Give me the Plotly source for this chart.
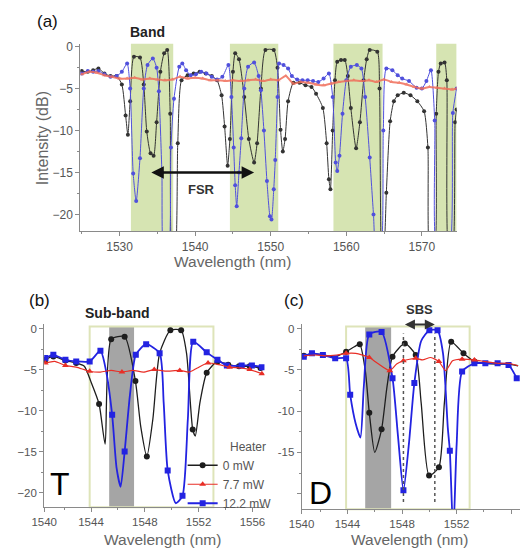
import plotly.graph_objects as go

W, H = 520, 552
FONT = "Liberation Sans, Arial, sans-serif"

# ---------------- data ----------------
# panel (a): (wavelength nm, intensity dB)
a_black = [(1525.0,-2.9),(1525.8,-3.0),(1526.5,-2.8),(1527.2,-2.6),(1528.0,-3.2),(1528.8,-3.5),
           (1529.6,-3.5),(1530.3,-4.5),(1530.8,-8.2),(1531.1,-10.5),(1531.4,-6.5),(1531.9,-1.2),
           (1532.7,-1.3),(1533.2,-4.5),(1533.6,-10.1),(1534.1,-12.7),(1534.5,-13.0),(1534.9,-9.0),
           (1535.4,-3.0),(1535.9,-0.8),(1536.3,-0.4),(1536.7,-8.0),(1537.0,-25),(1537.3,-25),
           (1537.7,-11.5),(1538.2,-4.0),(1539.0,-3.4),(1539.8,-3.2),(1540.6,-3.0),(1541.4,-3.2),
           (1542.2,-3.5),(1542.9,-4.0),(1543.5,-5.8),(1543.9,-9.5),(1544.3,-14.2),(1544.6,-11.0),
           (1545.0,-3.0),(1545.3,-0.8),(1545.8,-1.5),(1546.5,-6.0),(1547.1,-11.0),(1547.8,-13.8),
           (1548.2,-11.5),(1548.7,-5.0),(1549.3,-0.4),(1550.4,-0.4),(1550.9,-2.5),(1551.3,-9.9),
           (1551.6,-12.5),(1551.9,-11.0),(1552.3,-6.5),(1553.0,-4.3),(1553.8,-4.3),(1554.6,-4.6),
           (1555.4,-4.8),(1556.0,-5.6),(1556.9,-7.3),(1557.4,-11.5),(1557.7,-15.8),(1557.9,-17.0),
           (1558.2,-10.0),(1558.5,-4.0),(1558.8,-1.8),(1559.3,-1.6),(1559.8,-1.6),(1560.2,-3.5),
           (1560.6,-7.3),(1561.3,-12.1),(1561.8,-9.0),(1562.3,-4.0),(1562.7,-1.5),(1563.1,-0.4),
           (1564.1,-0.6),(1564.4,-5.0),(1564.7,-25),(1565.0,-24),(1565.3,-17.4),(1565.8,-8.9),
           (1566.3,-6.5),(1566.8,-5.8),(1567.6,-5.5),(1568.5,-5.8),(1569.4,-6.5),(1570.3,-7.7),
           (1570.8,-12.0),(1571.1,-25),(1571.6,-25),(1571.9,-8.0),(1572.2,-3.0),(1572.5,-2.0),
           (1573.0,-1.9),(1573.3,-4.0),(1573.6,-25),(1574.0,-25),(1574.4,-9.0),(1574.6,-7.5)]

a_blue = [(1525.0,-3.2),(1525.8,-2.9),(1526.5,-3.0),(1527.2,-2.9),(1528.0,-3.3),(1528.8,-3.6),
          (1529.6,-3.5),(1530.3,-3.0),(1531.0,-2.0),(1531.4,-5.0),(1531.8,-15.1),(1532.2,-18.4),
          (1532.7,-13.3),(1533.2,-5.0),(1533.7,-2.2),(1534.4,-1.4),(1534.9,-2.5),(1535.2,-5.3),
          (1535.6,-15.0),(1535.9,-25),(1536.4,-25),(1536.8,-12.0),(1537.2,-6.2),(1537.9,-2.4),
          (1538.3,-2.0),(1538.8,-2.8),(1539.4,-3.4),(1540.1,-3.3),(1540.8,-3.0),(1541.5,-3.2),
          (1542.2,-3.6),(1542.9,-3.9),(1543.6,-3.6),(1544.4,-2.2),(1544.8,-6.0),(1545.1,-12.0),
          (1545.3,-16.5),(1545.5,-19.0),(1545.8,-15.0),(1546.1,-10.9),(1546.5,-5.0),(1547.0,-2.4),
          (1547.8,-1.9),(1548.4,-3.5),(1548.7,-5.2),(1549.1,-10.0),(1549.5,-16.0),(1549.9,-20.2),
          (1550.1,-20.6),(1550.4,-17.0),(1550.6,-13.5),(1550.9,-6.0),(1551.1,-2.0),(1551.7,-2.2),
          (1552.3,-2.6),(1552.8,-3.5),(1553.5,-3.9),(1554.2,-4.0),(1554.9,-4.0),(1555.6,-4.1),
          (1556.3,-4.2),(1557.0,-3.8),(1557.7,-3.2),(1558.2,-6.0),(1558.6,-13.8),(1558.8,-14.8),
          (1559.1,-13.0),(1559.5,-8.0),(1560.0,-4.0),(1560.6,-2.4),(1561.4,-2.2),(1562.0,-2.6),
          (1562.5,-6.0),(1563.1,-13.2),(1563.6,-20.0),(1564.0,-25),(1564.5,-25),(1564.9,-10.0),
          (1565.3,-2.6),(1566.1,-2.8),(1566.8,-3.4),(1567.4,-3.8),(1568.3,-4.1),(1569.3,-4.9),
          (1570.0,-5.0),(1570.6,-4.1),(1571.2,-2.8),(1571.7,-8.8),(1572.1,-25),(1573.5,-25),
          (1574.1,-7.9),(1574.6,-5.0)]

a_red = [(1525,-3.3),(1526,-3.0),(1527,-3.1),(1528,-3.4),(1529,-3.6),(1530,-3.8),(1531,-3.8),
         (1532,-3.7),(1533,-3.9),(1534,-3.8),(1535,-3.9),(1536,-4.0),(1537,-3.9),(1538,-3.6),
         (1539,-3.8),(1540,-3.7),(1541,-3.8),(1542,-4.0),(1543,-4.0),(1544,-4.1),(1545,-4.0),
         (1546,-4.1),(1547,-4.0),(1548,-3.9),(1549,-4.1),(1550,-3.9),(1551,-4.0),(1552,-3.5),
         (1553,-4.4),(1554,-4.2),(1555,-4.3),(1556,-4.5),(1557,-4.6),(1558,-4.4),(1559,-4.2),
         (1560,-4.1),(1561,-4.0),(1562,-4.1),(1563,-4.0),(1564,-4.2),(1565,-3.9),(1566,-4.2),
         (1567,-4.3),(1568,-4.5),(1569,-4.8),(1570,-5.0),(1571,-4.8),(1572,-4.9),(1573,-5.0),
         (1574,-5.1),(1574.6,-5.0)]

a_bands = [(1531.5, 1537.1), (1544.6, 1551.0), (1558.3, 1564.8), (1571.9, 1574.6)]
fsr_span = (1534.0, 1547.8, -15.0)

# panel (b): (wavelength, dB, marker shown)
b_black = [(1540.6,-3.8,1),(1541.2,-3.4,1),(1542.1,-3.9,1),(1542.9,-4.2,1),(1543.5,-4.6,0),
           (1544.0,-6.5,0),(1544.6,-9.2,1),(1545.05,-14.1,0),(1545.5,-1.3,1),(1546.5,-1.0,1),
           (1547.3,-6.4,1),(1547.7,-12.0,0),(1548.15,-15.6,1),(1548.6,-11.0,0),(1549.1,-3.0,0),
           (1549.9,-0.2,1),(1550.7,-0.2,1),(1551.1,-3.0,0),(1551.56,-12.3,1),(1551.75,-13.1,0),
           (1552.1,-9.0,0),(1552.6,-5.4,1),(1553.4,-4.0,1),(1554.2,-4.4,1),(1555.0,-4.6,1),
           (1555.8,-4.6,1),(1556.6,-4.8,1)]
b_red = [(1540.6,-4.2,1),(1541.3,-4.0,0),(1542.1,-4.5,1),(1542.9,-4.7,0),(1543.9,-5.2,1),
         (1544.7,-5.3,0),(1545.5,-5.1,0),(1546.3,-5.3,1),(1547.1,-5.1,0),(1547.9,-5.3,0),
         (1548.7,-5.0,1),(1549.5,-5.2,0),(1550.6,-5.1,1),(1551.3,-5.3,0),(1551.9,-4.8,0),
         (1552.7,-4.2,1),(1553.5,-4.4,0),(1554.3,-4.7,1),(1555.1,-4.8,0),(1555.8,-5.0,1),
         (1556.7,-5.5,1)]
b_blue = [(1540.6,-3.6,1),(1541.2,-3.2,1),(1542.1,-3.8,1),(1542.9,-4.0,1),(1543.9,-4.0,1),
          (1544.7,-2.7,1),(1545.1,-5.0,0),(1545.57,-10.5,1),(1545.9,-17.0,0),(1546.2,-19.3,0),
          (1546.5,-15.0,1),(1546.9,-8.0,0),(1547.33,-3.2,1),(1548.1,-1.9,1),(1549.1,-3.0,1),
          (1549.4,-9.0,0),(1549.7,-17.3,1),(1550.3,-21.3,0),(1550.8,-20.4,1),(1551.2,-11.0,0),
          (1551.6,-1.6,1),(1552.6,-2.9,1),(1553.4,-3.8,1),(1554.1,-4.5,1),(1555.2,-4.5,1),
          (1555.96,-4.5,1),(1556.7,-4.7,1)]
b_frame = (1543.9, 1553.1)
b_sub = (1545.35, 1547.2)

# panel (c)
c_black = [(1540.8,-3.3,1),(1541.4,-3.0,0),(1542.2,-3.2,0),(1543.1,-3.4,0),(1543.9,-2.8,1),
           (1544.5,-2.2,0),(1544.9,-1.9,1),(1545.3,-5.0,0),(1545.6,-10.2,1),(1546.0,-15.0,0),
           (1546.5,-12.2,1),(1546.9,-7.0,0),(1547.3,-3.4,1),(1548.2,-1.8,1),(1549.0,-3.2,1),
           (1549.4,-9.0,0),(1549.98,-17.8,1),(1550.7,-16.8,1),(1551.1,-9.0,0),(1551.6,-1.6,1),
           (1552.5,-3.0,1),(1553.3,-4.0,1),(1554.1,-4.2,0),(1555.0,-4.3,0),(1555.8,-4.3,0),
           (1556.5,-4.5,0)]
c_red = [(1540.8,-3.3,0),(1541.6,-3.2,0),(1542.4,-3.3,0),(1543.2,-3.2,0),(1543.9,-3.0,1),
         (1544.6,-3.0,0),(1545.6,-3.5,1),(1546.2,-4.2,0),(1547.1,-5.1,1),(1547.6,-4.3,0),
         (1548.1,-3.9,1),(1549.0,-3.6,1),(1549.5,-3.8,0),(1550.1,-3.5,0),(1550.7,-4.0,1),
         (1551.2,-5.1,0),(1551.7,-3.9,0),(1552.4,-3.7,1),(1553.3,-3.8,1),(1554.1,-4.0,0),
         (1555.0,-4.2,0),(1555.8,-4.2,0),(1556.5,-4.5,0)]
c_blue = [(1540.8,-3.4,1),(1541.4,-3.0,1),(1542.2,-3.2,1),(1543.1,-3.6,1),(1543.9,-3.6,1),
          (1544.2,-8.0,1),(1544.6,-11.5,0),(1544.95,-13.2,0),(1545.2,-7.0,0),(1545.6,-0.7,1),
          (1546.5,-0.4,1),(1547.3,-6.0,1),(1547.7,-13.0,0),(1548.1,-19.6,1),(1548.5,-14.0,0),
          (1548.9,-6.6,1),(1549.4,-1.5,0),(1550.0,-0.2,1),(1550.6,-0.2,1),(1551.0,-3.0,0),
          (1551.35,-12.0,0),(1551.5,-14.8,1),(1551.75,-25,0),(1552.0,-14.0,0),(1552.4,-5.2,1),
          (1553.3,-4.2,1),(1554.1,-4.2,1),(1555.0,-4.2,1),(1555.8,-4.4,1),(1556.4,-6.0,1)]
c_frame = (1543.9, 1552.95)
c_sub = (1545.3, 1547.2)
c_sbs = (1548.1, 1550.4)

heater_names = ["0 mW", "7.7 mW", "12.2 mW"]

# ---------------- figure ----------------
def px(x):
    return x / W

def py(y):
    return 1 - y / H

BLACK = "#1e1e1e"
RED = "rgb(232,46,38)"
BLUE = "rgb(35,35,225)"

fig = go.Figure()

def add_a(series, color, symbol, lw, ms, opacity=1.0):
    fig.add_trace(go.Scatter(
        x=[p[0] for p in series], y=[p[1] for p in series], mode="lines+markers",
        line=dict(color=color, width=lw, shape="spline", smoothing=0.6),
        marker=dict(symbol=symbol, size=ms, color=color), opacity=opacity,
        xaxis="x", yaxis="y", showlegend=False, hoverinfo="skip"))

add_a(a_black, "#333333", "circle", 1.0, 4)
add_a(a_blue, "rgb(80,80,220)", "circle", 1.0, 4)
add_a(a_red, "rgb(240,110,90)", "triangle-up", 2.0, 4, 0.85)

def add_bc(series, color, symbol, lw, ms, xa, ya):
    fig.add_trace(go.Scatter(
        x=[p[0] for p in series], y=[p[1] for p in series], mode="lines",
        line=dict(color=color, width=lw, shape="spline", smoothing=0.6),
        xaxis=xa, yaxis=ya, showlegend=False, hoverinfo="skip"))
    fig.add_trace(go.Scatter(
        x=[p[0] for p in series if p[2]], y=[p[1] for p in series if p[2]], mode="markers",
        marker=dict(symbol=symbol, size=ms, color=color),
        xaxis=xa, yaxis=ya, showlegend=False, hoverinfo="skip"))

for xa, ya, bl, rd, bu in [("x2", "y2", b_black, b_red, b_blue), ("x3", "y3", c_black, c_red, c_blue)]:
    add_bc(bl, BLACK, "circle", 1.3, 6, xa, ya)
    add_bc(bu, BLUE, "square", 1.8, 6, xa, ya)
    add_bc(rd, RED, "triangle-up", 1.2, 6, xa, ya)

# legend entries (styles only)
for name, color, sym, lw in zip(heater_names, [BLACK, RED, BLUE], ["circle", "triangle-up", "square"], [1.3, 1.2, 1.8]):
    fig.add_trace(go.Scatter(x=[None], y=[None], mode="lines+markers", name=name,
                             line=dict(color=color, width=lw), marker=dict(symbol=sym, size=6, color=color),
                             xaxis="x2", yaxis="y2", showlegend=True))

shapes = []
for x0, x1 in a_bands:
    shapes.append(dict(type="rect", xref="x", yref="y domain", x0=x0, x1=x1, y0=0, y1=1,
                       fillcolor="rgb(214,228,178)", line=dict(width=0), layer="below"))
for xr, yr, fr, sb in [("x2", "y2", b_frame, b_sub), ("x3", "y3", c_frame, c_sub)]:
    shapes.append(dict(type="rect", xref=xr, yref=yr + " domain", x0=sb[0], x1=sb[1], y0=0, y1=0.985,
                       fillcolor="rgb(165,165,165)", line=dict(width=0), layer="below"))
    shapes.append(dict(type="rect", xref=xr, yref=yr + " domain", x0=fr[0], x1=fr[1], y0=0, y1=0.985,
                       fillcolor="rgba(0,0,0,0)", line=dict(color="rgb(222,228,185)", width=2), layer="below"))
for xv in c_sbs:
    shapes.append(dict(type="line", xref="x3", yref="y3", x0=xv, x1=xv, y0=-21.0, y1=-0.6,
                       line=dict(color="#555", width=1.5, dash="dot")))

ann = []
def txt(t, x, y, size, color="#111", bold=False, angle=0):
    ann.append(dict(text=("<b>%s</b>" % t) if bold else t, x=px(x), y=py(y), xref="paper", yref="paper",
                    showarrow=False, font=dict(size=size, color=color, family=FONT), textangle=angle,
                    xanchor="center", yanchor="middle"))

txt("(a)", 35, 18, 17)
txt("Band", 138, 28, 14, "#222", True)
txt("FSR", 193, 187, 13, "#333", True)
txt("Intensity (dB)", 30, 135, 16, "#666", angle=-90)
txt("Wavelength (nm)", 225, 259, 15.5, "#666")
txt("(b)", 27, 299, 17)
txt("Sub-band", 107, 311, 14, "#222", True)
txt("(c)", 288, 299, 17)
txt("SBS", 417, 308, 13, "#333", True)
txt("T", 48, 484, 32, "#000")
txt("D", 315, 493, 32, "#000")
txt("Wavelength (nm)", 153, 539, 15.5, "#666")
txt("Wavelength (nm)", 407, 539, 15.5, "#666")
txt("Heater", 241, 446, 12, "#555")

ann.append(dict(x=fsr_span[1], y=fsr_span[2], ax=fsr_span[0], ay=fsr_span[2], xref="x", yref="y",
                axref="x", ayref="y", showarrow=True, arrowhead=2, arrowside="end+start",
                arrowsize=1, arrowwidth=2.5, arrowcolor="#111", text=""))
ann.append(dict(x=c_sbs[1], y=0.5, ax=c_sbs[0], ay=0.5, xref="x3", yref="y3",
                axref="x3", ayref="y3", showarrow=True, arrowhead=2, arrowside="end+start",
                arrowsize=1, arrowwidth=2, arrowcolor="#333", text=""))

axis_common = dict(showline=True, linecolor="#8a8a8a", linewidth=1, ticks="outside", ticklen=4,
                   tickcolor="#8a8a8a", showgrid=False, zeroline=False, mirror=False)
tf_a = dict(size=12, color="#555", family=FONT)
tf_b = dict(size=11.5, color="#555", family=FONT)

b_range = [1540.52, 1556.9]
c_range = [1540.64, 1556.64]

fig.update_layout(
    width=W, height=H, autosize=False, margin=dict(l=0, r=0, t=0, b=0),
    paper_bgcolor="white", plot_bgcolor="white", font=dict(family=FONT),
    shapes=shapes, annotations=ann,
    legend=dict(x=px(174), y=py(450), xanchor="left", yanchor="top", bgcolor="rgba(255,255,255,0)",
                font=dict(size=12, color="#555", family=FONT), itemwidth=30, borderwidth=0,
                tracegroupgap=0),
    xaxis=dict(domain=[px(69), px(455)], range=[1524.8, 1574.6], anchor="y",
               tickvals=[1530, 1540, 1550, 1560, 1570], tickfont=tf_a,
               minor=dict(dtick=5, tick0=1525, ticks="outside", ticklen=2, tickcolor="#8a8a8a"), **axis_common),
    yaxis=dict(domain=[py(229), py(40)], range=[-22.0, 0.35], anchor="x",
               tickvals=[0, -5, -10, -15, -20], tickfont=tf_a,
               minor=dict(dtick=2.5, ticks="outside", ticklen=2, tickcolor="#8a8a8a"), **axis_common),
    xaxis2=dict(domain=[px(32), px(258)], range=b_range, anchor="y2",
                tickvals=[b_range[0], 1544, 1548, 1552, 1556], ticktext=["1540", "1544", "1548", "1552", "1556"],
                tickfont=tf_b, minor=dict(tickvals=[1542, 1546, 1550, 1554], ticks="outside", ticklen=2, tickcolor="#8a8a8a"),
                **axis_common),
    yaxis2=dict(domain=[py(507), py(322)], range=[-21.8, 0.6], anchor="x2",
                tickvals=[0, -5, -10, -15, -20], tickfont=tf_b,
                minor=dict(dtick=2.5, ticks="outside", ticklen=2, tickcolor="#8a8a8a"), **axis_common),
    xaxis3=dict(domain=[px(296), 1.0], range=c_range, anchor="y3",
                tickvals=[c_range[0], 1544, 1548, 1552, 1556], ticktext=["1540", "1544", "1548", "1552", "1556"],
                tickfont=tf_b, minor=dict(tickvals=[1542, 1546, 1550, 1554], ticks="outside", ticklen=2, tickcolor="#8a8a8a"),
                **axis_common),
    yaxis3=dict(domain=[py(509), py(322)], range=[-21.9, 0.6], anchor="x3",
                tickvals=[0, -5, -10, -15, -20], ticktext=["0", "-5", "-10", "-15", ""], tickfont=tf_b,
                minor=dict(dtick=2.5, ticks="outside", ticklen=2, tickcolor="#8a8a8a"), **axis_common),
)

fig.write_html("out.html", config={"displayModeBar": False},
               post_script="document.body.style.margin='0';document.body.style.overflow='hidden';")
